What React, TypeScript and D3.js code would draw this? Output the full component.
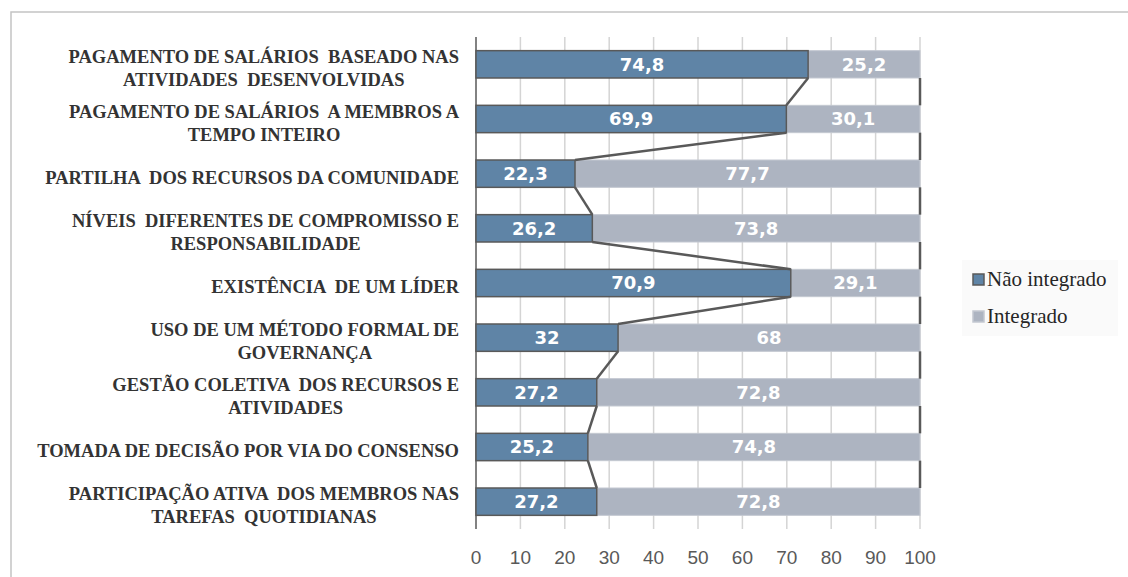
import React, { useEffect, useRef } from 'react';
import * as d3 from 'd3';

const categories: string[][] = [
  ['PAGAMENTO DE SALÁRIOS  BASEADO NAS', 'ATIVIDADES  DESENVOLVIDAS'],
  ['PAGAMENTO DE SALÁRIOS  A MEMBROS A', 'TEMPO INTEIRO'],
  ['PARTILHA  DOS RECURSOS DA COMUNIDADE'],
  ['NÍVEIS  DIFERENTES DE COMPROMISSO E', 'RESPONSABILIDADE'],
  ['EXISTÊNCIA  DE UM LÍDER'],
  ['USO DE UM MÉTODO FORMAL DE', 'GOVERNANÇA'],
  ['GESTÃO COLETIVA  DOS RECURSOS E', 'ATIVIDADES'],
  ['TOMADA DE DECISÃO POR VIA DO CONSENSO'],
  ['PARTICIPAÇÃO ATIVA  DOS MEMBROS NAS', 'TAREFAS  QUOTIDIANAS'],
];
const naoIntegrado = [74.8, 69.9, 22.3, 26.2, 70.9, 32, 27.2, 25.2, 27.2];
const integrado = [25.2, 30.1, 77.7, 73.8, 29.1, 68, 72.8, 74.8, 72.8];
const xTicks = [0, 10, 20, 30, 40, 50, 60, 70, 80, 90, 100];
const seriesNames = ['Não integrado', 'Integrado'];

const W = 1128;
const H = 577;
const BLUE = '#5f84a6';
const GREY = '#adb4c1';
const DARK = '#595959';

const fmt = (v: number) => String(v).replace('.', ',');

export default function App() {
  const svgRef = useRef<SVGSVGElement>(null);

  useEffect(() => {
    document.body.style.margin = '0';
    if (!svgRef.current) return;
    const svg = d3.select(svgRef.current);
    svg.selectAll('*').remove();

    const margin = { top: 37, left: 476, right: 208, bottom: 48 };
    const plotW = W - margin.left - margin.right;
    const plotH = H - margin.top - margin.bottom;

    // chart frame
    svg.append('rect')
      .attr('x', 11).attr('y', 12)
      .attr('width', W + 20).attr('height', H + 20)
      .attr('fill', '#fff')
      .attr('stroke', '#c4c4c4').attr('stroke-width', 1.5);

    const g = svg.append('g').attr('transform', `translate(${margin.left},${margin.top})`);

    const x = d3.scaleLinear().domain([0, 100]).range([0, plotW]);
    const idx = categories.map((_, i) => String(i));
    const y = d3.scaleBand().domain(idx).range([0, plotH]).paddingInner(0.5).paddingOuter(0.25);
    const bh = y.bandwidth();

    // gridlines
    g.append('g')
      .selectAll('line')
      .data(xTicks)
      .join('line')
      .attr('x1', d => x(d)).attr('x2', d => x(d))
      .attr('y1', 0).attr('y2', plotH)
      .attr('stroke', d => (d === 0 ? DARK : '#d4d4d4'))
      .attr('stroke-width', 1.5);

    // bars
    const rows = g.append('g')
      .selectAll('g')
      .data(naoIntegrado.map((v, i) => ({ i, a: v, b: integrado[i] })))
      .join('g')
      .attr('transform', d => `translate(0,${y(String(d.i))})`);

    rows.append('rect')
      .attr('x', d => x(d.a)).attr('y', 0)
      .attr('width', d => x(d.a + d.b) - x(d.a)).attr('height', bh)
      .attr('fill', GREY).attr('stroke', '#c3c8d1').attr('stroke-width', 1);

    rows.append('rect')
      .attr('x', 0).attr('y', 0)
      .attr('width', d => x(d.a)).attr('height', bh)
      .attr('fill', BLUE).attr('stroke', DARK).attr('stroke-width', 1.5);

    // series lines
    const lineData: [number, number, number, number][] = [];
    for (let i = 0; i < naoIntegrado.length - 1; i++) {
      const y0 = (y(String(i)) || 0) + bh;
      const y1 = y(String(i + 1)) || 0;
      lineData.push([x(naoIntegrado[i]), y0, x(naoIntegrado[i + 1]), y1]);
      lineData.push([x(naoIntegrado[i] + integrado[i]), y0, x(naoIntegrado[i + 1] + integrado[i + 1]), y1]);
    }
    g.append('g')
      .selectAll('line')
      .data(lineData)
      .join('line')
      .attr('x1', d => d[0]).attr('y1', d => d[1])
      .attr('x2', d => d[2]).attr('y2', d => d[3])
      .attr('stroke', DARK).attr('stroke-width', 2.5);

    // value labels
    const valStyle = (sel: any) => sel
      .attr('text-anchor', 'middle')
      .attr('dy', '0.36em')
      .attr('y', bh / 2)
      .attr('fill', '#fff')
      .style('font-family', '"DejaVu Sans", sans-serif')
      .style('font-weight', 'bold')
      .style('font-size', '18px');

    rows.append('text')
      .attr('x', d => x(d.a / 2))
      .text(d => fmt(d.a))
      .call(valStyle);
    rows.append('text')
      .attr('x', d => x(d.a + d.b / 2))
      .text(d => fmt(d.b))
      .call(valStyle);

    // x tick labels
    g.append('g')
      .selectAll('text')
      .data(xTicks)
      .join('text')
      .attr('x', d => x(d))
      .attr('y', plotH + 35)
      .attr('text-anchor', 'middle')
      .attr('fill', DARK)
      .style('font-family', '"Liberation Sans", Arial, sans-serif')
      .style('font-size', '19px')
      .text(d => String(d));

    // category labels
    const labelRight = 459;
    categories.forEach((lines, i) => {
      const c = margin.top + (y(String(i)) || 0) + bh / 2;
      const lg = svg.append('g');
      const texts = lg.selectAll('text')
        .data(lines)
        .join('text')
        .attr('x', 0)
        .attr('y', (_, k) => c + 10 + (k - (lines.length - 1) / 2) * 23)
        .attr('text-anchor', 'middle')
        .attr('fill', '#333')
        .style('font-family', '"Liberation Serif", "Times New Roman", serif')
        .style('font-weight', 'bold')
        .style('font-size', '18.5px')
        .style('white-space', 'pre')
        .text(d => d);
      let maxW = 0;
      texts.each(function () {
        maxW = Math.max(maxW, (this as SVGTextElement).getComputedTextLength());
      });
      lg.attr('transform', `translate(${labelRight - maxW / 2},0)`);
    });

    // legend
    const legend = svg.append('g').attr('transform', 'translate(962,260)');
    legend.append('rect')
      .attr('width', 156).attr('height', 76)
      .attr('fill', '#fafafa');
    seriesNames.forEach((name, i) => {
      const ly = 19 + i * 37;
      legend.append('rect')
        .attr('x', 11).attr('y', ly - 5)
        .attr('width', 11).attr('height', 11)
        .attr('fill', i === 0 ? BLUE : GREY)
        .attr('stroke', i === 0 ? DARK : '#c3c8d1')
        .attr('stroke-width', 1.5);
      legend.append('text')
        .attr('x', 25).attr('y', ly + 7)
        .attr('fill', '#262626')
        .style('font-family', '"Liberation Serif", "Times New Roman", serif')
        .style('font-size', '21px')
        .text(name);
    });
  }, []);

  return <svg ref={svgRef} width={W} height={H} style={{ display: 'block', background: '#fff' }} />;
}
